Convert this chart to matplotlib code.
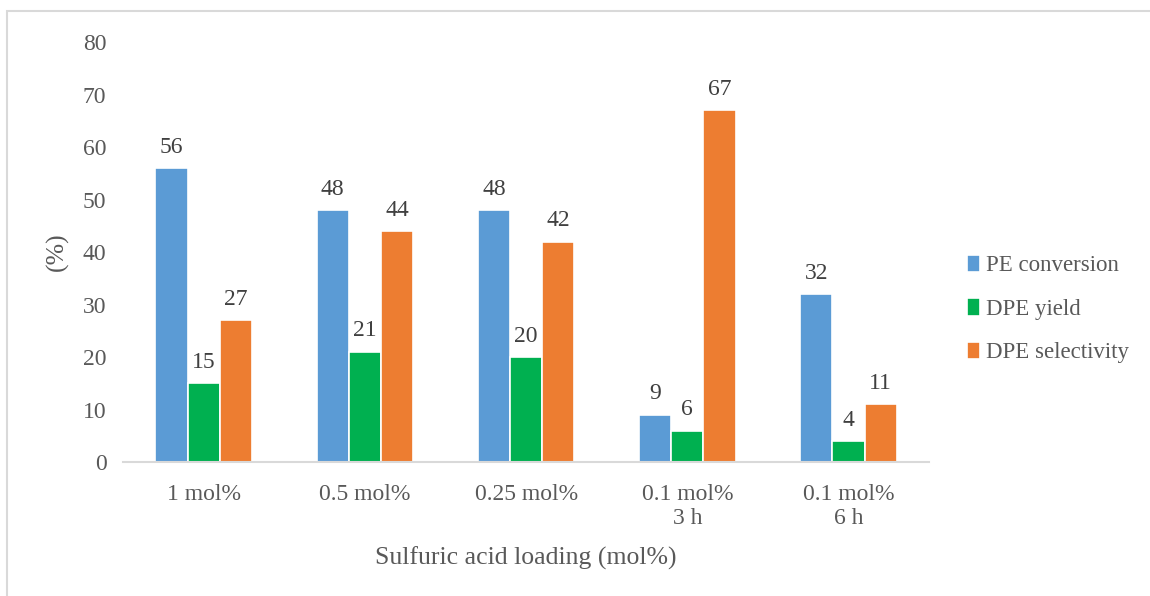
import numpy as np
import matplotlib.pyplot as plt
from matplotlib.patches import Rectangle

plt.rcParams['font.family'] = ['Liberation Serif', 'DejaVu Serif']

categories = ['1 mol%', '0.5 mol%', '0.25 mol%', '0.1 mol%\n3 h', '0.1 mol%\n6 h']
pe_conversion = [56, 48, 48, 9, 32]
dpe_yield = [15, 21, 20, 6, 4]
dpe_selectivity = [27, 44, 42, 67, 11]

series = [
    ('PE conversion', pe_conversion, '#5B9BD5'),
    ('DPE yield', dpe_yield, '#00B050'),
    ('DPE selectivity', dpe_selectivity, '#ED7D31'),
]

fig = plt.figure(figsize=(11.5, 5.96), dpi=100)
ax = fig.add_axes([0.107, 0.2248, 0.701, 0.7047])

# light frame around the chart area (Excel style)
fig.patches.append(Rectangle((7 / 1150, -0.1), 1.2, 1 - 11 / 596 + 0.1,
                             transform=fig.transFigure, fill=False,
                             edgecolor='#D9D9D9', linewidth=1.5))

x = np.arange(len(categories))
w = 0.2
for i, (name, vals, col) in enumerate(series):
    pos = x + (i - 1) * w
    bars = ax.bar(pos, vals, w, color=col, edgecolor='white', linewidth=1.2, label=name)
    for b, v in zip(bars, vals):
        ax.text(b.get_x() + b.get_width() / 2, v + 2.0, str(v), ha='center', va='bottom',
                fontsize=17, color='#404040')

ax.set_xlim(-0.5, len(categories) - 0.5)
ax.set_ylim(0, 80)
ax.set_yticks(range(0, 81, 10))
ax.set_xticks(x)
ax.set_xticklabels(categories, linespacing=1.2)
ax.tick_params(axis='both', length=0, labelsize=17, labelcolor='#595959')
ax.tick_params(axis='x', pad=16)
ax.tick_params(axis='y', pad=12)
for s in ['top', 'right', 'left']:
    ax.spines[s].set_visible(False)
ax.spines['bottom'].set_color('#D9D9D9')
ax.spines['bottom'].set_linewidth(1.5)

ax.set_xlabel('Sulfuric acid loading (mol%)', fontsize=18.5, color='#595959', labelpad=12)
ax.set_ylabel('(%)', fontsize=18.5, color='#595959', labelpad=10)

leg = fig.legend(loc='center left', bbox_to_anchor=(946 / 1150, 1 - 309 / 596), frameon=False,
                 fontsize=16.5, handlelength=0.6, handleheight=0.8, handletextpad=0.25,
                 labelspacing=0.95, labelcolor='#595959')

fig.savefig('out.png', dpi=100)
